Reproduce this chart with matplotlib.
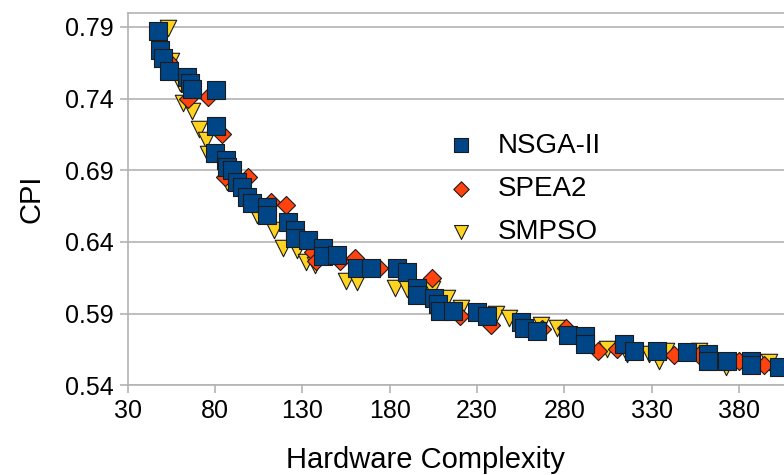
import numpy as np
import matplotlib.pyplot as plt

# Frentes de Pareto: complejidad de hardware vs CPI
nsga_x = [47.2, 48.3, 50.0, 53.5, 63.8, 65.5, 66.6, 80.3, 80.3, 79.8, 86.0, 86.6,
          89.5, 92.4, 95.2, 98.0, 101.0, 109.5, 109.5, 122.0, 125.5, 125.5, 133.0,
          141.5, 141.5, 149.6, 161.0, 169.5, 183.9, 190.0, 195.3, 195.3, 205.6,
          207.4, 208.5, 216.0, 230.0, 235.4, 255.4, 257.0, 264.0, 282.3, 291.5,
          291.5, 314.0, 320.0, 333.0, 350.0, 362.0, 362.0, 373.0, 387.0, 387.0, 403.0]
nsga_y = [0.787, 0.774, 0.768, 0.759, 0.755, 0.751, 0.747, 0.746, 0.721, 0.702, 0.697, 0.692,
          0.690, 0.682, 0.678, 0.671, 0.667, 0.664, 0.659, 0.654, 0.648, 0.643, 0.641,
          0.636, 0.630, 0.631, 0.622, 0.622, 0.622, 0.619, 0.608, 0.603, 0.601,
          0.597, 0.592, 0.592, 0.591, 0.588, 0.584, 0.580, 0.578, 0.575, 0.574,
          0.569, 0.569, 0.564, 0.564, 0.563, 0.562, 0.557, 0.557, 0.557, 0.554, 0.553]

spea_x = [52.9, 64.3, 75.8, 83.8, 85.5, 98.6, 112.0, 120.4, 135.8, 138.0, 151.3, 160.0,
          173.6, 204.0, 220.0, 238.0, 267.4, 281.1, 299.0, 310.0, 343.0, 357.0, 380.0, 394.4]
spea_y = [0.766, 0.740, 0.741, 0.715, 0.685, 0.685, 0.668, 0.666, 0.633, 0.627, 0.627, 0.629,
          0.622, 0.615, 0.588, 0.582, 0.579, 0.580, 0.564, 0.565, 0.561, 0.561, 0.557, 0.554]

smpso_x = [52.9, 55.0, 59.7, 61.5, 66.6, 70.6, 75.0, 75.8, 87.0, 103.8, 113.5, 118.7,
           126.7, 131.8, 137.0, 154.7, 161.0, 182.8, 190.0, 204.0, 212.5, 220.5, 241.0,
           248.5, 266.8, 276.0, 304.6, 316.0, 328.6, 334.0, 338.3, 357.2, 372.7, 397.0]
smpso_y = [0.789, 0.766, 0.751, 0.737, 0.731, 0.719, 0.711, 0.701, 0.682, 0.659, 0.648, 0.636,
           0.634, 0.626, 0.624, 0.613, 0.612, 0.608, 0.607, 0.607, 0.601, 0.594, 0.590,
           0.587, 0.582, 0.580, 0.565, 0.562, 0.562, 0.557, 0.564, 0.564, 0.553, 0.556]

xticks = [30, 80, 130, 180, 230, 280, 330, 380]
yticks = [0.54, 0.59, 0.64, 0.69, 0.74, 0.79]

plt.rcParams['font.family'] = ['Liberation Sans', 'DejaVu Sans']

fig = plt.figure(figsize=(7.84, 4.75), dpi=100)
ax = fig.add_axes([0.163, 0.189, 0.837, 0.784])

gris = '#b3b3b3'
borde = '#1c1c1c'

ax.scatter(smpso_x, smpso_y, s=140, marker='v', color='#ffd320', edgecolors=borde,
           linewidths=0.8, zorder=3, label='SMPSO')
ax.scatter(spea_x, spea_y, s=85, marker='D', color='#ff420e', edgecolors=borde,
           linewidths=0.8, zorder=4, label='SPEA2')
ax.scatter(nsga_x, nsga_y, s=150, marker='s', color='#004586', edgecolors=borde,
           linewidths=0.8, zorder=5, label='NSGA-II')

ax.set_xlim(30, 405.7)
ax.set_ylim(0.54, 0.7998)
ax.set_xticks(xticks)
ax.set_yticks(yticks)
ax.set_yticklabels(['%.2f' % v for v in yticks])
ax.tick_params(labelsize=18, color=gris, length=6, width=1.2, pad=4)
ax.yaxis.grid(True, color=gris, linewidth=1.2)
ax.set_axisbelow(True)

for lado in ['left', 'bottom', 'top']:
    ax.spines[lado].set_color(gris)
    ax.spines[lado].set_linewidth(1.2)
ax.spines['right'].set_visible(False)

ax.set_xlabel('Hardware Complexity', fontsize=21)
ax.xaxis.set_label_coords(0.453, -0.163)
ax.set_ylabel('CPI', fontsize=21)
ax.yaxis.set_label_coords(-0.125, 0.5)

h, l = ax.get_legend_handles_labels()
orden = [2, 1, 0]
ax.legend([h[i] for i in orden], [l[i] for i in orden], loc='upper left',
          bbox_to_anchor=(0.428, 0.745), frameon=False, fontsize=20,
          handletextpad=0.3, labelspacing=0.62, markerscale=0.85)

fig.savefig('out.png', dpi=100)
